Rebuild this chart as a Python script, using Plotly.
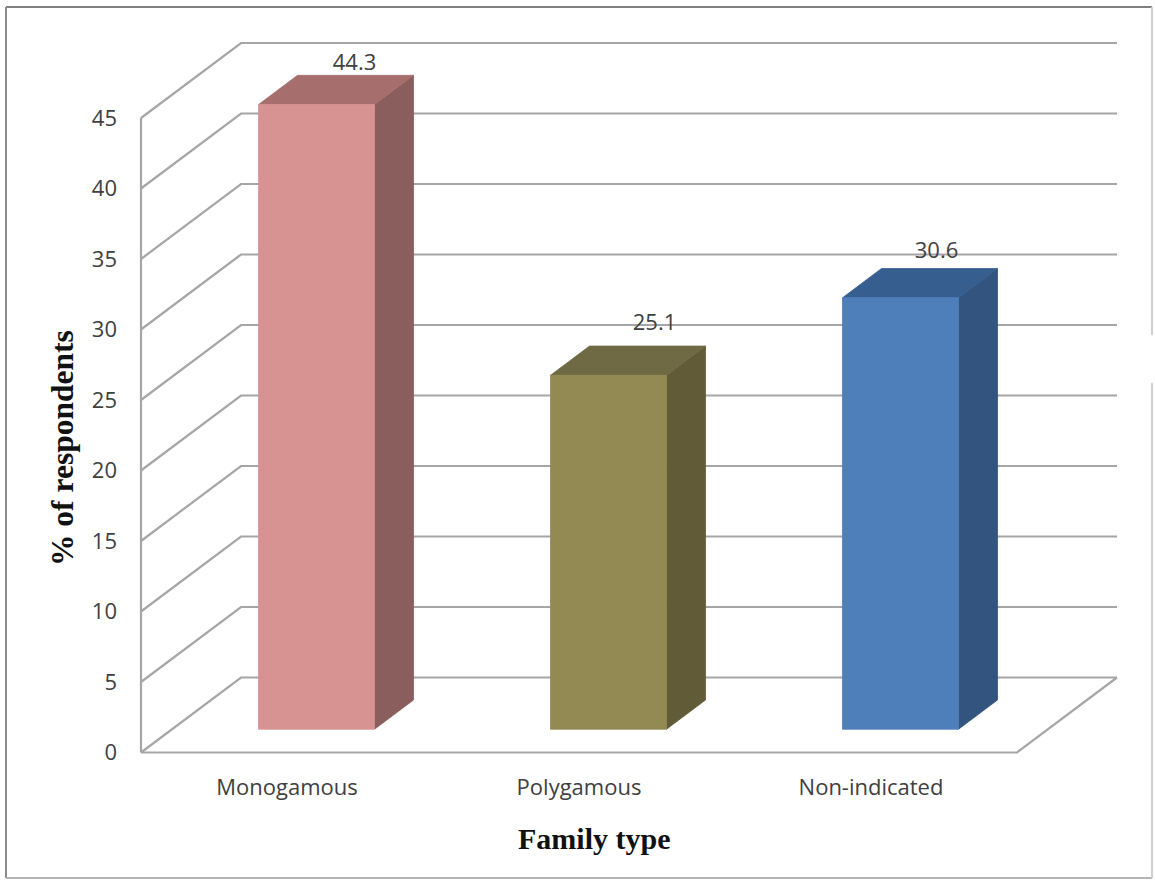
import plotly.graph_objects as go

# Chart data
categories = ["Monogamous", "Polygamous", "Non-indicated"]
respondents_pct = [44.3, 25.1, 30.6]
value_ticks = [0, 5, 10, 15, 20, 25, 30, 35, 40, 45]
front_colors = ["#D69392", "#938953", "#4E7FBB"]
side_colors = ["#8A5E5C", "#615C37", "#33547F"]
top_colors = ["#A66F6D", "#706A44", "#365E8F"]
# Hand placement of the value labels, in pixels right / up of the bar's rear top centre
label_nudge_px = [(-1, 11), (7, 22), (-3, 16)]

# Page and oblique-projection geometry, in pixels
W, H = 1155, 880
ORIGIN_X, ORIGIN_Y = 141, 752.5
PX_PER_CATEGORY = 292
PX_PER_VALUE = 14.1
WALL_DX, WALL_DY = 100, 75
BAR_WIDTH_PX = 116
BAR_SHIFT_PX = 1.5     # bars sit slightly left of the slot centre
BAR_INSET = 0.31       # share of the floor depth in front of each bar
BAR_DEPTH = 0.39       # share of the floor depth taken by each bar
GRID = "#A6A6A6"
TEXT = "#404040"

cat_w = 1 / PX_PER_CATEGORY
val_h = 1 / PX_PER_VALUE
wall_x = WALL_DX * cat_w
wall_y = WALL_DY * val_h
n_cats = len(categories)


def poly(xs, ys, color):
    # A hairline in the fill colour closes the antialiasing seams between faces
    return go.Scatter(x=xs, y=ys, mode="lines", fill="toself", fillcolor=color,
                      line=dict(width=0.8, color=color), hoverinfo="skip", showlegend=False)


def wire(xs, ys):
    return go.Scatter(x=xs, y=ys, mode="lines", line=dict(color=GRID, width=2.2),
                      hoverinfo="skip", showlegend=False)


fig = go.Figure()

# Left wall axis line
fig.add_trace(wire([0, 0], [0, value_ticks[-1]]))

# Gridlines: up the side wall, then along the back wall
for v in value_ticks:
    fig.add_trace(wire([0, wall_x, n_cats + wall_x], [v, v + wall_y, v + wall_y]))

# Floor outline
fig.add_trace(wire([0, n_cats, n_cats + wall_x], [0, 0, wall_y]))

# Bars: each one is a front, side and top face projected from its value
for i, value in enumerate(respondents_pct):
    half = BAR_WIDTH_PX * cat_w / 2
    cx = i + 0.5 + BAR_INSET * wall_x - BAR_SHIFT_PX * cat_w
    x0, x1 = cx - half, cx + half
    y0 = BAR_INSET * wall_y
    y1 = y0 + value
    dx, dy = BAR_DEPTH * wall_x, BAR_DEPTH * wall_y
    fig.add_trace(poly([x1, x1 + dx, x1 + dx, x1, x1], [y0, y0 + dy, y1 + dy, y1, y0], side_colors[i]))
    fig.add_trace(poly([x0, x1, x1 + dx, x0 + dx, x0], [y1, y1, y1 + dy, y1 + dy, y1], top_colors[i]))
    fig.add_trace(poly([x0, x1, x1, x0, x0], [y0, y0, y1, y1, y0], front_colors[i]))

    nudge_x, nudge_y = label_nudge_px[i]
    fig.add_trace(go.Scatter(
        x=[cx + dx + nudge_x * cat_w], y=[y1 + dy + nudge_y * val_h],
        mode="text", text=[f"{value:.1f}"], textposition="middle center",
        textfont=dict(family="Open Sans", size=22, color=TEXT),
        hoverinfo="skip", showlegend=False,
    ))

fig.update_layout(
    width=W, height=H,
    margin=dict(l=0, r=0, t=0, b=0),
    paper_bgcolor="white", plot_bgcolor="white",
    showlegend=False,
    xaxis=dict(
        range=[-ORIGIN_X * cat_w, (W - ORIGIN_X) * cat_w],
        domain=[0, 1], anchor="free", position=1 - ORIGIN_Y / H,
        tickmode="array", tickvals=[i + 0.5 for i in range(n_cats)], ticktext=categories,
        tickfont=dict(family="Open Sans", size=22, color=TEXT),
        ticks="", showgrid=False, zeroline=False, showline=False,
        ticklabelstandoff=19, automargin=False,
    ),
    yaxis=dict(
        range=[-(H - ORIGIN_Y) * val_h, ORIGIN_Y * val_h],
        domain=[0, 1], anchor="free", position=ORIGIN_X / W,
        tickmode="array", tickvals=value_ticks,
        tickfont=dict(family="Open Sans", size=22, color=TEXT),
        ticks="", showgrid=False, zeroline=False, showline=False,
        ticklabelstandoff=24, automargin=False,
    ),
    annotations=[
        dict(text="<b>Family type</b>", xref="paper", yref="paper",
             x=594 / W, y=1 - 838 / H, xanchor="center", yanchor="middle", showarrow=False,
             font=dict(family="Liberation Serif", size=30, color="#111111")),
        dict(text="<b>% of respondents</b>", xref="paper", yref="paper",
             x=63 / W, y=1 - 448 / H, xanchor="center", yanchor="middle", showarrow=False,
             textangle=-90,
             font=dict(family="Liberation Serif", size=31.5, color="#111111")),
    ],
    shapes=[
        # Outer chart frame, darker along the top and left
        dict(type="line", xref="paper", yref="paper", x0=6 / W, x1=1152 / W, y0=1 - 7 / H, y1=1 - 7 / H,
             line=dict(color="#808080", width=2)),
        dict(type="line", xref="paper", yref="paper", x0=6 / W, x1=6 / W, y0=1 - 7 / H, y1=1 - 878 / H,
             line=dict(color="#8C8C8C", width=2)),
        dict(type="line", xref="paper", yref="paper", x0=6 / W, x1=1152 / W, y0=1 - 878 / H, y1=1 - 878 / H,
             line=dict(color="#B5B5B5", width=2)),
        dict(type="line", xref="paper", yref="paper", x0=1152 / W, x1=1152 / W, y0=1 - 7 / H, y1=1 - 335 / H,
             line=dict(color="#CFCFCF", width=2)),
        dict(type="line", xref="paper", yref="paper", x0=1152 / W, x1=1152 / W, y0=1 - 383 / H, y1=1 - 878 / H,
             line=dict(color="#CFCFCF", width=2)),
    ],
)

fig.write_html("out.html")
